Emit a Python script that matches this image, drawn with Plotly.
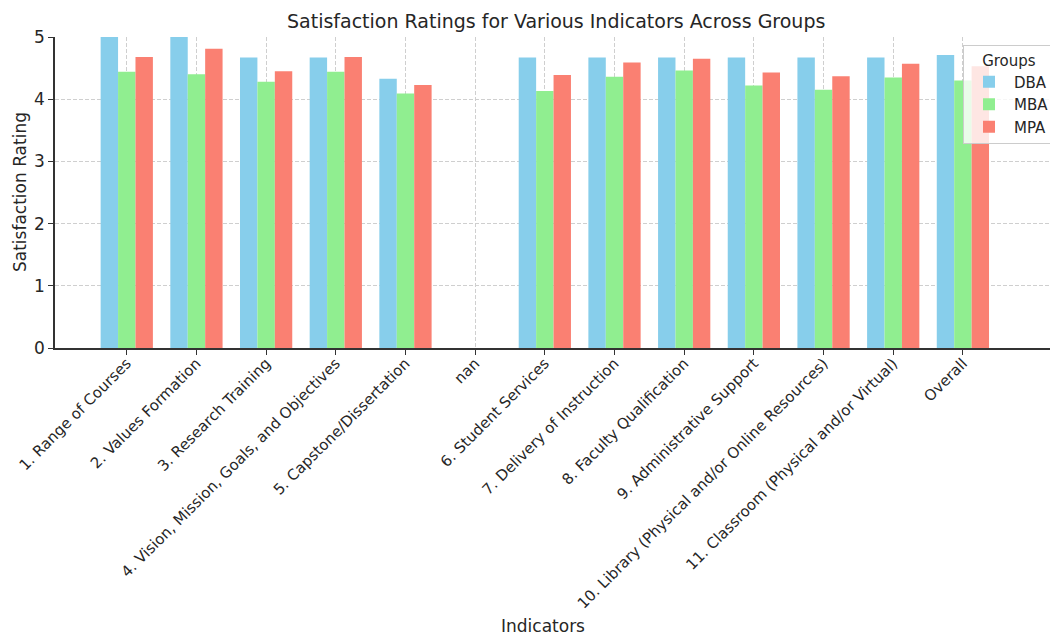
import plotly.graph_objects as go

categories = [
    "1. Range of Courses",
    "2. Values Formation",
    "3. Research Training",
    "4. Vision, Mission, Goals, and Objectives",
    "5. Capstone/Dissertation",
    "nan",
    "6. Student Services",
    "7. Delivery of Instruction",
    "8. Faculty Qualification",
    "9. Administrative Support",
    "10. Library (Physical and/or Online Resources)",
    "11. Classroom (Physical and/or Virtual)",
    "Overall",
]
dba = [5.00, 5.00, 4.67, 4.67, 4.33, None, 4.67, 4.67, 4.67, 4.67, 4.67, 4.67, 4.71]
mba = [4.44, 4.40, 4.28, 4.44, 4.09, None, 4.13, 4.36, 4.46, 4.22, 4.15, 4.35, 4.30]
mpa = [4.68, 4.81, 4.45, 4.68, 4.23, None, 4.39, 4.59, 4.65, 4.43, 4.37, 4.57, 4.53]
y_ticks = [0, 1, 2, 3, 4, 5]

series = [("DBA", dba, "#87CEEB"), ("MBA", mba, "#90EE90"), ("MPA", mpa, "#FA8072")]

FONT = "DejaVu Sans"
TXT = "#262626"
GRID = "#cfcfcf"

fig = go.Figure()
for name, vals, col in series:
    fig.add_trace(go.Bar(x=categories, y=vals, name=name, marker_color=col,
                         marker_line_width=0))

W, H = 1050, 638
L, R, T, B = 55, 0, 37, 290
PW, PH = W - L - R, H - T - B

def px_x(x):
    return (x - L) / PW

def px_y(y):
    return (H - B - y) / PH

fig.update_layout(
    width=W, height=H,
    margin=dict(l=L, r=R, t=T, b=B, autoexpand=False),
    paper_bgcolor="white", plot_bgcolor="white",
    barmode="group", bargap=0.25, bargroupgap=0,
    font=dict(family=FONT, color=TXT),
    showlegend=True,
    legend=dict(
        title=dict(text="Groups", side="top center", font=dict(size=15, color=TXT)),
        x=px_x(963), y=px_y(45),
        xanchor="left", yanchor="top",
        bgcolor="rgba(255,255,255,0.8)", bordercolor="#cccccc", borderwidth=1,
        font=dict(size=15, color=TXT),
        tracegroupgap=2, itemwidth=40,
    ),
    xaxis=dict(
        type="category",
        categoryorder="array", categoryarray=categories,
        range=[-1.03, 13.25],
        tickangle=-45,
        tickfont=dict(size=15, family=FONT, color=TXT),
        ticklabelstandoff=-6,
        showgrid=True, gridcolor=GRID, griddash="4px,2px", gridwidth=1,
        showline=True, linecolor="#333333", linewidth=1.5,
        ticks="outside", ticklen=5, tickcolor="#333333", tickwidth=1.2,
        zeroline=False,
    ),
    yaxis=dict(
        range=[0, 5],
        tickvals=y_ticks,
        tickfont=dict(size=17, family=FONT, color=TXT),
        showgrid=True, gridcolor=GRID, griddash="4px,2px", gridwidth=1,
        showline=True, linecolor="#333333", linewidth=1.5,
        ticks="outside", ticklen=5, tickcolor="#333333", tickwidth=1.2,
        zeroline=False,
    ),
    annotations=[
        dict(text="Satisfaction Ratings for Various Indicators Across Groups",
             xref="paper", yref="paper", x=px_x(556), y=px_y(21),
             xanchor="center", yanchor="middle", showarrow=False,
             font=dict(size=19, family=FONT, color=TXT)),
        dict(text="Indicators",
             xref="paper", yref="paper", x=px_x(543), y=px_y(626),
             xanchor="center", yanchor="middle", showarrow=False,
             font=dict(size=17, family=FONT, color=TXT)),
        dict(text="Satisfaction Rating", textangle=-90,
             xref="paper", yref="paper", x=px_x(20), y=px_y(192),
             xanchor="center", yanchor="middle", showarrow=False,
             font=dict(size=17, family=FONT, color=TXT)),
    ],
)

fig.write_html(
    "out.html",
    config={"displayModeBar": False},
    post_script="document.body.style.margin='0';document.body.style.overflow='hidden';",
)
